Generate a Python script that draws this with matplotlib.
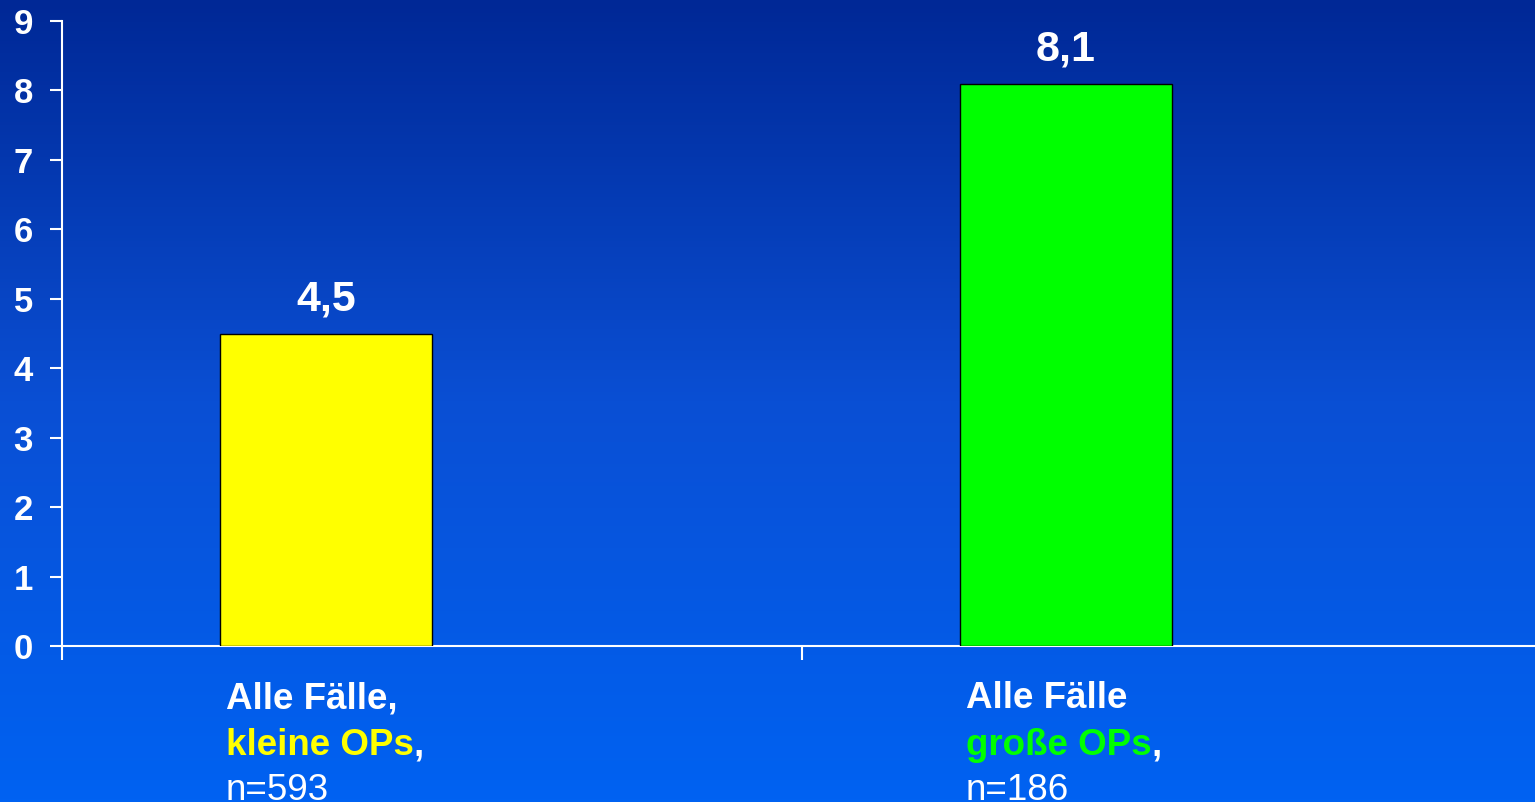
import numpy as np
import matplotlib
matplotlib.use("Agg")
import matplotlib.pyplot as plt
from matplotlib.colors import LinearSegmentedColormap

# Data
categories = ["kleine OPs", "große OPs"]
values = [4.5, 8.1]
value_labels = ["4,5", "8,1"]
counts = ["n=593", "n=186"]
first_lines = ["Alle Fälle,", "Alle Fälle"]
bar_colors = ["#ffff00", "#00ff00"]
y_ticks = list(range(0, 10))

plt.rcParams["font.family"] = ["Liberation Sans", "DejaVu Sans"]

W, H, DPI = 1535, 802, 100
fig = plt.figure(figsize=(W / DPI, H / DPI), dpi=DPI)

# Vertical blue gradient background
bg = fig.add_axes([0, 0, 1, 1], zorder=-10)
grad = np.linspace(0, 1, 256).reshape(-1, 1)
cmap = LinearSegmentedColormap.from_list("bg", ["#002896", "#0a4fd4", "#0062f2"])
bg.imshow(grad, aspect="auto", cmap=cmap, extent=[0, 1, 0, 1], origin="upper")
bg.set_axis_off()

ax_left, ax_bottom = 62 / W, (H - 646) / H
ax_w, ax_h = 1480 / W, 625 / H
ax = fig.add_axes([ax_left, ax_bottom, ax_w, ax_h])
ax.patch.set_alpha(0)

n = len(categories)
bar_w = 212 / 740
centers = np.arange(n) + 0.5
lefts = centers - bar_w
bars = ax.bar(lefts, values, width=bar_w, align="edge", color=bar_colors,
              edgecolor="black", linewidth=1.0, zorder=3)

ax.set_xlim(0, n)
ax.set_ylim(0, 9)
ax.set_yticks(y_ticks)
ax.set_yticklabels([str(t) for t in y_ticks], fontsize=25, fontweight="bold", color="white")
ax.set_xticks(np.arange(n + 1)[:-1])
ax.set_xticklabels([])
ax.tick_params(axis="y", direction="out", length=9, width=1.5, colors="white", pad=12)
ax.tick_params(axis="x", direction="out", length=10, width=1.5, colors="white")
for s in ["top", "right"]:
    ax.spines[s].set_visible(False)
for s in ["left", "bottom"]:
    ax.spines[s].set_color("white")
    ax.spines[s].set_linewidth(1.5)

# Value labels above bars
for b, lab in zip(bars, value_labels):
    ax.annotate(lab, (b.get_x() + b.get_width() / 2, b.get_height()),
                xytext=(0, 16.5), textcoords="offset points", ha="center", va="baseline",
                fontsize=31, fontweight="bold", color="white")

# Multi-coloured category labels below the axis
fs = 26.5
for i, b in enumerate(bars):
    x0 = b.get_x() + 6 / 740
    ax.annotate(first_lines[i], (x0, 0), xycoords=("data", "axes fraction"),
                xytext=(0, -45), textcoords="offset points", ha="left", va="baseline",
                fontsize=fs, fontweight="bold", color="white", annotation_clip=False)
    t2 = ax.annotate(categories[i], (x0, 0), xycoords=("data", "axes fraction"),
                     xytext=(0, -78.5), textcoords="offset points", ha="left", va="baseline",
                     fontsize=fs, fontweight="bold", color=bar_colors[i], annotation_clip=False)
    ax.annotate(",", (1, 0), xycoords=t2, xytext=(0, 0), textcoords="offset points",
                ha="left", va="bottom", fontsize=fs, fontweight="bold", color="white")
    ax.annotate(counts[i], (x0, 0), xycoords=("data", "axes fraction"),
                xytext=(0, -111), textcoords="offset points", ha="left", va="baseline",
                fontsize=fs, color="white", annotation_clip=False)

fig.savefig("out.png", dpi=DPI)
